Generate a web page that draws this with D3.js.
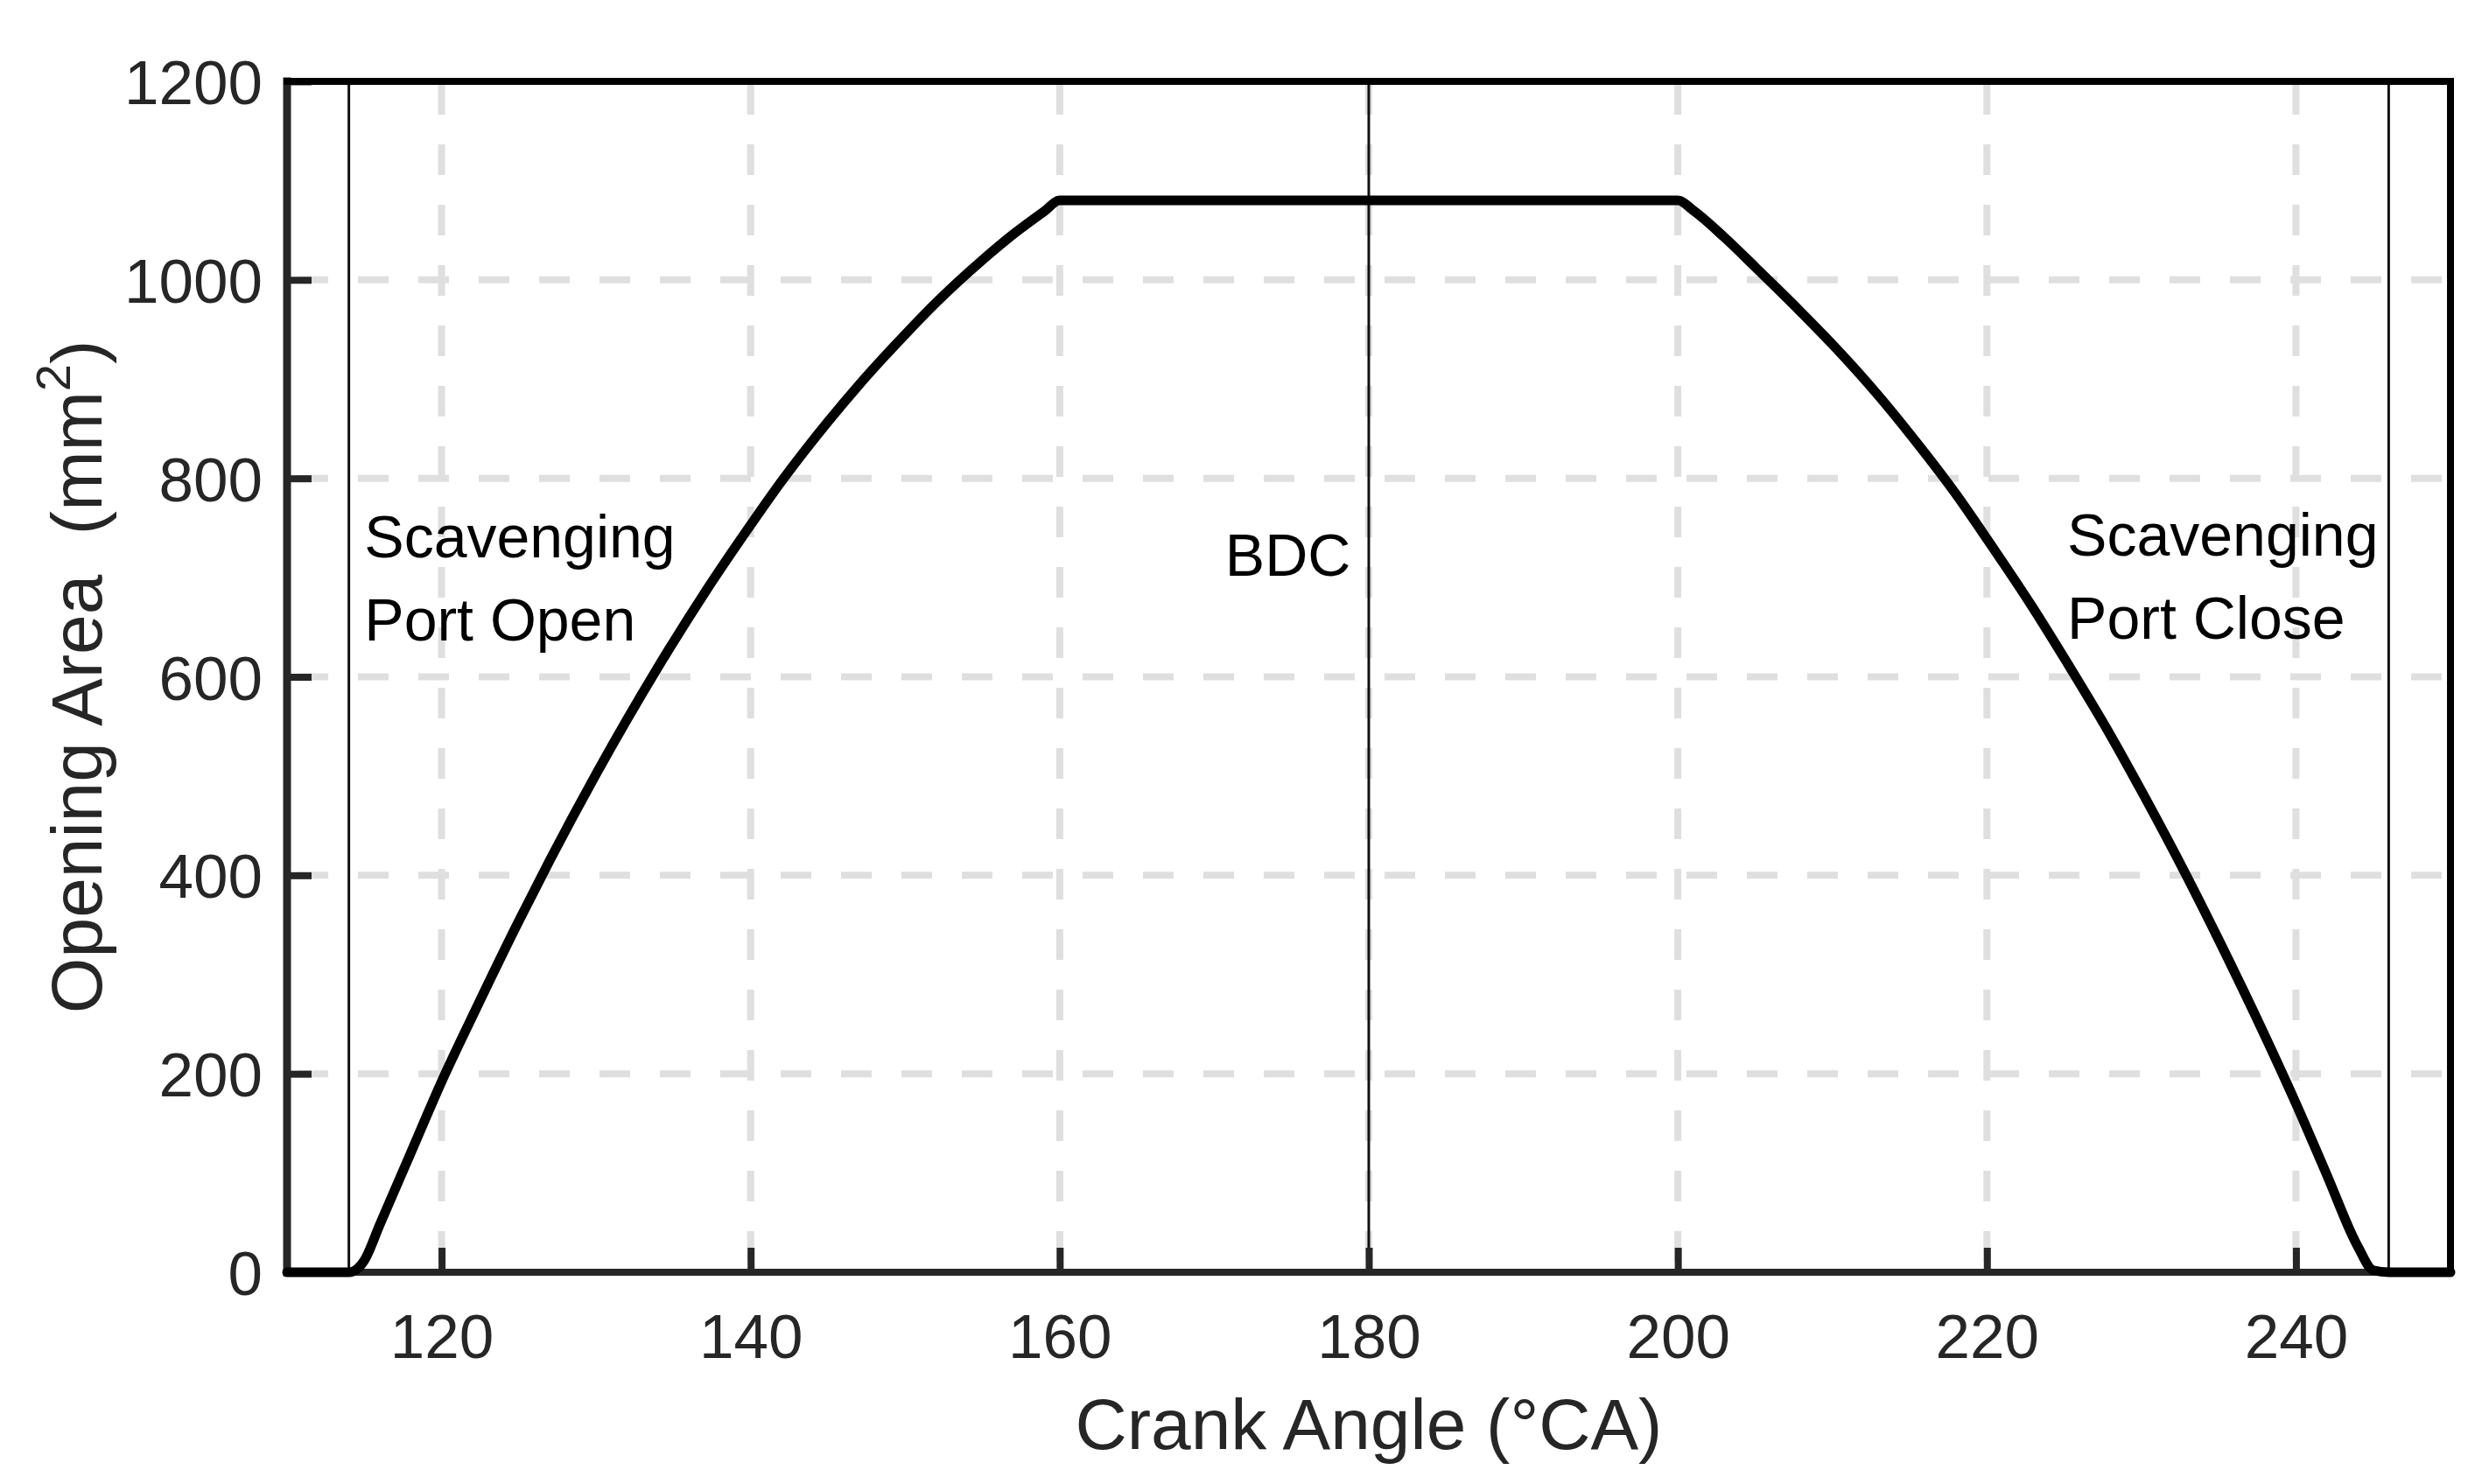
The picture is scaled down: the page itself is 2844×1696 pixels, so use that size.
<!DOCTYPE html>
<html>
<head>
<meta charset="utf-8">
<script src="https://cdn.jsdelivr.net/npm/d3@7"></script>
<style>
  html, body { margin: 0; padding: 0; background: #fff; }
  svg { display: block; }
  text { font-family: "Liberation Sans", Arial, Helvetica, sans-serif; }
</style>
</head>
<body>
<script>
// ---------- data ----------
const crankAngle = [110, 114, 115, 116, 118, 120, 122, 125, 127, 130, 132, 135, 137, 140, 142, 145, 147, 150, 152, 155, 157, 159, 160,
                    200, 201, 203, 205, 208, 210, 213, 215, 218, 220, 223, 225, 228, 230, 233, 235, 238, 240, 242, 244, 245, 246, 250];
const openingArea = [0, 0, 12, 48, 120, 192, 258, 354, 415, 502, 557, 635, 684, 753, 797, 857, 894, 945, 977, 1020, 1046, 1069, 1080,
                     1080, 1070, 1043, 1013, 967, 935, 883, 845, 784, 739, 669, 619, 541, 485, 397, 335, 238, 170, 98, 26, 2, 0, 0];
const markerAngles = [114, 180, 246];
const xTickValues = [120, 140, 160, 180, 200, 220, 240];
const yTickValues = [0, 200, 400, 600, 800, 1000, 1200];
const xDomain = [110, 250];
const yDomain = [0, 1200];
const annotations = [
  { lines: ["Scavenging", "Port Open"], x: 115.0, y: 720 },
  { lines: ["BDC"], x: 170.7, y: 702 },
  { lines: ["Scavenging", "Port Close"], x: 225.2, y: 722 }
];
const xLabel = "Crank Angle (°CA)";
const yLabelMain = "Opening Area\u00A0\u00A0(mm";
const yLabelSup = "2";
const yLabelEnd = ")";

// ---------- layout ----------
const W = 2844, H = 1696;
const plot = { left: 328, right: 2800, top: 93, bottom: 1454 };

const svg = d3.select("body").append("svg")
  .attr("width", W).attr("height", H)
  .attr("viewBox", `0 0 ${W} ${H}`);
svg.append("rect").attr("width", W).attr("height", H).attr("fill", "#fff");

const x = d3.scaleLinear().domain(xDomain).range([plot.left, plot.right]);
const y = d3.scaleLinear().domain(yDomain).range([plot.bottom, plot.top]);

const axisColor = "#262626";
const tickFont = 71;
const fmt = d3.format("d");

// grid
const grid = svg.append("g");
grid.selectAll("line.vg").data(xTickValues).join("line")
  .attr("x1", d => x(d)).attr("x2", d => x(d))
  .attr("y1", plot.bottom).attr("y2", plot.top)
  .attr("stroke", "#dfdfdf").attr("stroke-width", 8)
  .attr("stroke-dasharray", "35 34").attr("stroke-dashoffset", 57);
grid.selectAll("line.hg").data(yTickValues.filter(v => v > yDomain[0] && v < yDomain[1])).join("line")
  .attr("x1", plot.left).attr("x2", plot.right)
  .attr("y1", d => y(d)).attr("y2", d => y(d))
  .attr("stroke", "#dfdfdf").attr("stroke-width", 8)
  .attr("stroke-dasharray", "35 34").attr("stroke-dashoffset", 57);

// thin vertical marker lines
svg.append("g").selectAll("line").data(markerAngles).join("line")
  .attr("x1", d => x(d)).attr("x2", d => x(d))
  .attr("y1", y(yDomain[0])).attr("y2", y(yDomain[1]))
  .attr("stroke", "#111").attr("stroke-width", 3);

// axes (left & bottom with inward ticks)
const tickLen = 28;
const xAxisB = d3.axisBottom(x).tickValues(xTickValues).tickFormat(fmt).tickSizeInner(-tickLen).tickSizeOuter(0);
const gxb = svg.append("g").attr("transform", `translate(0,${plot.bottom})`).call(xAxisB);
gxb.select(".domain").remove();
gxb.selectAll(".tick line").attr("stroke", axisColor).attr("stroke-width", 8);
gxb.selectAll(".tick text").attr("fill", axisColor).attr("font-size", tickFont)
  .attr("dy", null).attr("y", 98);

const yAxisL = d3.axisLeft(y).tickValues(yTickValues).tickFormat(fmt).tickSizeInner(-tickLen).tickSizeOuter(0);
const gyl = svg.append("g").attr("transform", `translate(${plot.left},0)`).call(yAxisL);
gyl.select(".domain").remove();
gyl.selectAll(".tick line").attr("stroke", axisColor).attr("stroke-width", 8);
gyl.selectAll(".tick text").attr("fill", axisColor).attr("font-size", tickFont)
  .attr("x", -28).attr("dy", "0.36em").attr("text-anchor", "end");

// box
const box = svg.append("g").attr("fill", "none").attr("stroke-width", 8).attr("stroke-linecap", "square");
box.append("line").attr("x1", plot.left).attr("x2", plot.right).attr("y1", plot.bottom).attr("y2", plot.bottom).attr("stroke", axisColor);
box.append("line").attr("x1", plot.left).attr("x2", plot.left).attr("y1", plot.top).attr("y2", plot.bottom).attr("stroke", axisColor).attr("stroke-width", 9);
box.append("line").attr("x1", plot.left).attr("x2", plot.right).attr("y1", plot.top).attr("y2", plot.top).attr("stroke", "#000");
box.append("line").attr("x1", plot.right).attr("x2", plot.right).attr("y1", plot.top).attr("y2", plot.bottom).attr("stroke", "#000");

// curve
const pts = crankAngle.map((a, i) => [a, openingArea[i]]);
const line = d3.line().x(d => x(d[0])).y(d => y(d[1])).curve(d3.curveMonotoneX);
svg.append("path").datum(pts)
  .attr("d", line)
  .attr("fill", "none").attr("stroke", "#000")
  .attr("stroke-width", 11).attr("stroke-linejoin", "round").attr("stroke-linecap", "round");

// annotations
const lineGap = 95;
annotations.forEach(a => {
  const t = svg.append("text")
    .attr("x", x(a.x)).attr("y", y(a.y))
    .attr("font-size", 68).attr("fill", "#000");
  a.lines.forEach((l, i) => {
    t.append("tspan").attr("x", x(a.x)).attr("dy", i === 0 ? 0 : lineGap).text(l);
  });
});

// axis labels
svg.append("text")
  .attr("x", x(180)).attr("y", 1656)
  .attr("text-anchor", "middle").attr("font-size", 82).attr("fill", axisColor)
  .text(xLabel);

const yl = svg.append("text")
  .attr("transform", `translate(116,${(plot.top + plot.bottom) / 2}) rotate(-90)`)
  .attr("text-anchor", "middle").attr("font-size", 82).attr("fill", axisColor);
yl.append("tspan").text(yLabelMain);
yl.append("tspan").attr("font-size", 56).attr("dy", -36).text(yLabelSup);
yl.append("tspan").attr("dy", 36).text(yLabelEnd);
</script>
</body>
</html>
